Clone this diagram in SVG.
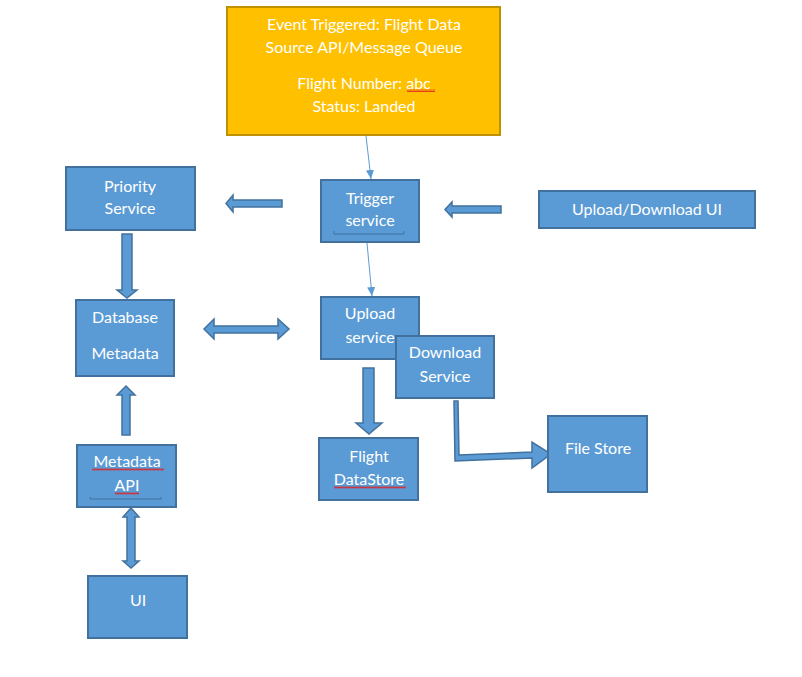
<svg xmlns="http://www.w3.org/2000/svg" width="802" height="677" viewBox="0 0 802 677">
<defs>
<style>
.box{fill:#5B9BD5;stroke:#41719C;stroke-width:2}
.evt{fill:#FFC000;stroke:#BF9000;stroke-width:2}
.t{font-family:Lato,"Open Sans","Liberation Sans",sans-serif;font-size:16px;fill:#FFFFFF;text-anchor:middle}
.blk{fill:#5B9BD5;stroke:#41719C;stroke-width:1.5;stroke-linejoin:miter}
.thin{fill:none;stroke:#5B9BD5;stroke-width:1}
.ul{fill:none;stroke:#41719C;stroke-width:1}
</style>
<marker id="ah" markerWidth="10" markerHeight="10" refX="9" refY="5" orient="auto" markerUnits="userSpaceOnUse">
<path d="M0,1 L9,5 L0,9 z" fill="#5B9BD5"/>
</marker>
<pattern id="sq" width="4" height="3" patternUnits="userSpaceOnUse">
<path d="M0,2.5 L1,0.5 L2,2.5 L3,0.5 L4,2.5" fill="none" stroke="#E02020" stroke-width="0.8"/>
</pattern>
</defs>

<g id="connectors">
<line class="thin" x1="366" y1="136" x2="371" y2="179" marker-end="url(#ah)"/>
<line class="thin" x1="367" y1="243" x2="372" y2="296" marker-end="url(#ah)"/>
<!-- trigger -> priority -->
<polygon class="blk" points="282,200 233,200 233,195 226,203.5 233,212 233,207 282,207"/>
<!-- upload/download UI -> trigger -->
<polygon class="blk" points="501,206 452,206 452,202 445,209.5 452,217 452,213 501,213"/>
<!-- priority -> database -->
<polygon class="blk" points="122,234 132,234 132,290 137,290 127,298 117,290 122,290"/>
<!-- database <-> upload -->
<polygon class="blk" points="204,329 214,319 214,326 278,326 278,319 289,329 278,339 278,333 214,333 214,339"/>
<!-- upload -> flight datastore -->
<polygon class="blk" points="363,368 374,368 374,423 382,423 369,434 356,423 363,423"/>
<!-- download -> file store -->
<polygon class="blk" points="454,401 458,401 459,455 532,452 532,442 551,454 532,468 532,458 455,461"/>
<!-- metadata api -> database -->
<polygon class="blk" points="122,435 130,435 130,395 135,395 126,386 117,395 122,395"/>
<!-- metadata api <-> ui -->
<polygon class="blk" points="131,508 139,517 135,517 135,561 139,561 131,568 123,561 127,561 127,517 123,517"/>
</g>

<g id="event">
<rect class="evt" x="227" y="7" width="273" height="128"/>
<text class="t" x="364" y="30">Event Triggered: Flight Data</text>
<text class="t" x="364" y="53">Source API/Message Queue</text>
<text class="t" x="364" y="89">Flight Number: abc</text>
<text class="t" x="364" y="112">Status: Landed</text>
<rect x="407" y="89" width="28" height="3" fill="url(#sq)"/>
</g>

<g id="trigger">
<rect class="box" x="321" y="180" width="98" height="62"/>
<text class="t" x="370" y="204">Trigger</text>
<text class="t" x="370" y="226">service</text>
<path class="ul" d="M334,231 V234 H404 V231"/>
</g>

<g id="priority">
<rect class="box" x="66" y="167" width="129" height="63"/>
<text class="t" x="130" y="192">Priority</text>
<text class="t" x="130" y="214">Service</text>
</g>

<g id="uploadui">
<rect class="box" x="539" y="191" width="216" height="37"/>
<text class="t" x="647" y="215">Upload/Download UI</text>
</g>

<g id="database">
<rect class="box" x="76" y="300" width="98" height="76"/>
<text class="t" x="125" y="323">Database</text>
<text class="t" x="125" y="359">Metadata</text>
</g>

<g id="upload">
<rect class="box" x="321" y="297" width="98" height="62"/>
<text class="t" x="370" y="319">Upload</text>
<text class="t" x="370" y="343">service</text>
</g>

<g id="download">
<rect class="box" x="396" y="336" width="98" height="62"/>
<text class="t" x="445" y="358">Download</text>
<text class="t" x="445" y="382">Service</text>
</g>

<g id="flightstore">
<rect class="box" x="319" y="438" width="99" height="62"/>
<text class="t" x="369" y="462">Flight</text>
<text class="t" x="369" y="485">DataStore</text>
<rect x="334" y="486" width="72" height="3" fill="url(#sq)"/>
</g>

<g id="filestore">
<rect class="box" x="548" y="416" width="99" height="76"/>
<text class="t" x="598" y="454">File Store</text>
</g>

<g id="metaapi">
<rect class="box" x="77" y="445" width="99" height="62"/>
<text class="t" x="127" y="467">Metadata</text>
<text class="t" x="127" y="491">API</text>
<rect x="92" y="468" width="72" height="3" fill="url(#sq)"/>
<rect x="115" y="492" width="24" height="3" fill="url(#sq)"/>
<path class="ul" d="M90,497 V499 H161 V497"/>
</g>

<g id="ui">
<rect class="box" x="88" y="576" width="99" height="62"/>
<text class="t" x="138" y="606">UI</text>
</g>
</svg>
